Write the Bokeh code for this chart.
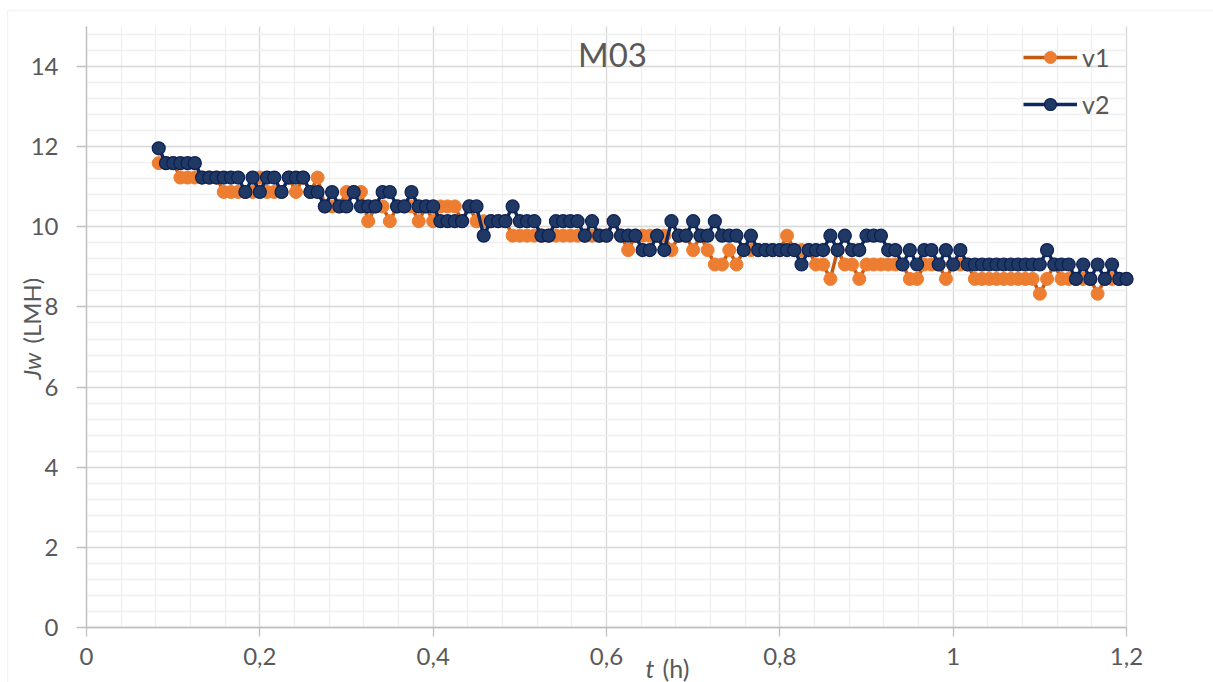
import math

from bokeh.embed import file_html
from bokeh.models import (ColumnDataSource, FixedTicker, Grid, Label, Legend,
                          LegendItem, PolyAnnotation, Range1d)
from bokeh.plotting import figure
from bokeh.resources import INLINE

# ---- data -------------------------------------------------------------
# permeate flux Jw (LMH), logged every 30 s from t = 5 min
SAMPLE_START_H = 5 / 60
SAMPLE_STEP_H = 0.5 / 60

jw_v1 = [
    11.59, 11.59, 11.59, 11.23, 11.23, 11.23, 11.23, 11.23, 11.23, 10.87,
    10.87, 10.87, 10.87, 10.87, 11.23, 10.87, 10.87, 10.87, 11.23, 10.87,
    11.23, 10.87, 11.23, 10.51, 10.51, 10.51, 10.87, 10.87, 10.87, 10.14,
    10.51, 10.51, 10.14, 10.51, 10.51, 10.51, 10.14, 10.51, 10.14, 10.51,
    10.51, 10.51, 10.14, 10.51, 10.14, 10.14, 10.14, 10.14, 10.14, 9.78,
    9.78, 9.78, 9.78, 9.78, 9.78, 9.78, 9.78, 9.78, 9.78, 9.78,
    9.78, 9.78, 9.78, 10.14, 9.78, 9.42, 9.78, 9.78, 9.78, 9.78,
    9.78, 9.42, 9.78, 9.78, 9.42, 9.78, 9.42, 9.06, 9.06, 9.42,
    9.06, 9.42, 9.42, 9.42, 9.42, 9.42, 9.42, 9.78, 9.42, 9.42,
    9.42, 9.06, 9.06, 8.70, 9.42, 9.06, 9.06, 8.70, 9.06, 9.06,
    9.06, 9.06, 9.06, 9.06, 8.70, 8.70, 9.06, 9.06, 9.06, 8.70,
    9.06, 9.06, 9.06, 8.70, 8.70, 8.70, 8.70, 8.70, 8.70, 8.70,
    8.70, 8.70, 8.33, 8.70, 9.06, 8.70, 8.70, 8.70, 8.70, 8.70,
    8.33, 8.70, 8.70, 8.70, 8.70,
]

jw_v2 = [
    11.96, 11.59, 11.59, 11.59, 11.59, 11.59, 11.23, 11.23, 11.23, 11.23,
    11.23, 11.23, 10.87, 11.23, 10.87, 11.23, 11.23, 10.87, 11.23, 11.23,
    11.23, 10.87, 10.87, 10.51, 10.87, 10.51, 10.51, 10.87, 10.51, 10.51,
    10.51, 10.87, 10.87, 10.51, 10.51, 10.87, 10.51, 10.51, 10.51, 10.14,
    10.14, 10.14, 10.14, 10.51, 10.51, 9.78, 10.14, 10.14, 10.14, 10.51,
    10.14, 10.14, 10.14, 9.78, 9.78, 10.14, 10.14, 10.14, 10.14, 9.78,
    10.14, 9.78, 9.78, 10.14, 9.78, 9.78, 9.78, 9.42, 9.42, 9.78,
    9.42, 10.14, 9.78, 9.78, 10.14, 9.78, 9.78, 10.14, 9.78, 9.78,
    9.78, 9.42, 9.78, 9.42, 9.42, 9.42, 9.42, 9.42, 9.42, 9.06,
    9.42, 9.42, 9.42, 9.78, 9.42, 9.78, 9.42, 9.42, 9.78, 9.78,
    9.78, 9.42, 9.42, 9.06, 9.42, 9.06, 9.42, 9.42, 9.06, 9.42,
    9.06, 9.42, 9.06, 9.06, 9.06, 9.06, 9.06, 9.06, 9.06, 9.06,
    9.06, 9.06, 9.06, 9.42, 9.06, 9.06, 9.06, 8.70, 9.06, 8.70,
    9.06, 8.70, 9.06, 8.70, 8.70,
]

t_h = [round(SAMPLE_START_H + i * SAMPLE_STEP_H, 5) for i in range(len(jw_v1))]

x_ticks = [0, 0.2, 0.4, 0.6, 0.8, 1, 1.2]
x_tick_labels = ["0", "0,2", "0,4", "0,6", "0,8", "1", "1,2"]
x_minor = [round(i * 0.04, 2) for i in range(31)]
y_ticks = [0, 2, 4, 6, 8, 10, 12, 14]
y_minor = [round(i * 0.4, 1) for i in range(38)]

X_MAX = 1.2
Y_MAX = 15

# ---- canvas geometry --------------------------------------------------
W, H = 1213, 682
PLOT_LEFT, PLOT_RIGHT, PLOT_TOP, PLOT_BOTTOM = 86, 1126, 26, 627
px_per_x = (PLOT_RIGHT - PLOT_LEFT) / X_MAX
px_per_y = (PLOT_BOTTOM - PLOT_TOP) / Y_MAX

# the frame spans the whole canvas so that the axis titles and the chart
# border can sit beside the plotting area
x_range = Range1d(-PLOT_LEFT / px_per_x, (W - PLOT_LEFT) / px_per_x)
y_range = Range1d(-(H - PLOT_BOTTOM) / px_per_y, PLOT_BOTTOM / px_per_y)

# ---- styling ----------------------------------------------------------
FONT = "Lato"
TEXT = "#595959"
AXIS = "#bfbfbf"
GRID = "#d9d9d9"
MINOR_GRID = "#efefef"

p = figure(
    width=W, height=H,
    output_backend="svg", toolbar_location=None,
    x_range=x_range, y_range=y_range,
    min_border=0,
)
p.outline_line_color = None
p.background_fill_color = "white"
p.border_fill_color = "white"

x_ticker = FixedTicker(ticks=x_ticks, minor_ticks=x_minor)
y_ticker = FixedTicker(ticks=y_ticks, minor_ticks=y_minor)
p.xaxis.ticker = x_ticker
p.yaxis.ticker = y_ticker
p.xaxis.fixed_location = 0
p.yaxis.fixed_location = 0
p.xaxis.bounds = (0, X_MAX)
p.yaxis.bounds = (0, Y_MAX)

grid_style = dict(grid_line_color=GRID, grid_line_width=1.3,
                  minor_grid_line_color=MINOR_GRID, minor_grid_line_width=1.3)
if "cross_bounds" in Grid.properties():
    p.xgrid.ticker = x_ticker
    p.ygrid.ticker = y_ticker
    p.xgrid.bounds = (-0.0001, X_MAX + 0.0001)
    p.xgrid.cross_bounds = (0, Y_MAX)
    p.ygrid.bounds = (-0.0001, Y_MAX)
    p.ygrid.cross_bounds = (0, X_MAX)
    for g in (p.xgrid, p.ygrid):
        for k, v in grid_style.items():
            setattr(g, k, v)
else:
    p.xgrid.visible = False
    p.ygrid.visible = False
    for ticks, color in ((x_minor, MINOR_GRID), (x_ticks, GRID)):
        p.multi_line([[t, t] for t in ticks], [[0, Y_MAX]] * len(ticks),
                     line_color=color, line_width=1.3, level="underlay")
    for ticks, color in ((y_minor, MINOR_GRID), (y_ticks, GRID)):
        p.multi_line([[0, X_MAX]] * len(ticks), [[t, t] for t in ticks],
                     line_color=color, line_width=1.3, level="underlay")

for ax in (p.xaxis, p.yaxis):
    ax.axis_line_color = AXIS
    ax.axis_line_width = 1.3
    ax.major_tick_line_color = AXIS
    ax.major_tick_line_width = 1.3
    ax.major_tick_in = 0
    ax.minor_tick_in = 0
    ax.minor_tick_out = 0
    ax.major_label_text_font = FONT
    ax.major_label_text_font_size = "24px"
    ax.major_label_text_color = TEXT

p.xaxis.major_tick_out = 9
p.yaxis.major_tick_out = 10
p.xaxis.major_label_standoff = 11
p.yaxis.major_label_standoff = 18
p.xaxis.major_label_overrides = dict(zip(x_ticks, x_tick_labels))

# ---- series -----------------------------------------------------------
src1 = ColumnDataSource(dict(t=t_h, jw=jw_v1))
src2 = ColumnDataSource(dict(t=t_h, jw=jw_v2))

l1 = p.line("t", "jw", source=src1, line_color="#C55A11", line_width=3.5)
m1 = p.scatter("t", "jw", source=src1, size=13,
               fill_color="#ED7D31", line_color="#ED7D31", line_width=1)
l2 = p.line("t", "jw", source=src2, line_color="#0E2A5E", line_width=3.5)
m2 = p.scatter("t", "jw", source=src2, size=13,
               fill_color="#203864", line_color="#0B2154", line_width=1.2)

legend = Legend(
    items=[LegendItem(label="v1", renderers=[l1, m1]),
           LegendItem(label="v2", renderers=[l2, m2])],
    location=(1023, 563),
    glyph_width=54, glyph_height=30, spacing=17,
    label_standoff=5, padding=0, margin=0,
    label_text_font=FONT, label_text_font_size="25px",
    label_text_color=TEXT,
    background_fill_alpha=0, border_line_color=None,
)
p.add_layout(legend)

# ---- texts ------------------------------------------------------------
def sx(px):
    return (px - PLOT_LEFT) / px_per_x


def sy(py):
    return (PLOT_BOTTOM - py) / px_per_y


p.add_layout(Label(x=sx(612), y=sy(53), text="M03", text_align="center",
                   text_baseline="middle", text_font=FONT,
                   text_font_size="33px", text_color=TEXT))

p.add_layout(Label(x=sx(645), y=sy(667), text="t", text_align="left",
                   text_baseline="middle", text_font=FONT,
                   text_font_style="italic", text_font_size="25px",
                   text_color=TEXT))
p.add_layout(Label(x=sx(662), y=sy(667), text="(h)", text_align="left",
                   text_baseline="middle", text_font=FONT,
                   text_font_size="25px", text_color=TEXT))

p.add_layout(Label(x=sx(31), y=sy(379), text="Jw", angle=math.pi / 2,
                   text_align="left", text_baseline="middle",
                   text_font=FONT, text_font_style="italic",
                   text_font_size="24px", text_color=TEXT))
p.add_layout(Label(x=sx(31), y=sy(343), text="(LMH)", angle=math.pi / 2,
                   text_align="left", text_baseline="middle",
                   text_font=FONT, text_font_size="24px",
                   text_color=TEXT))

# chart-area border; its right and bottom edges lie past the canvas
p.add_layout(PolyAnnotation(
    xs=[sx(7), sx(W + 20), sx(W + 20), sx(7)],
    ys=[sy(10), sy(10), sy(H + 20), sy(H + 20)],
    fill_alpha=0, line_color="#d9d9d9", line_width=1.3,
))

open("out.html", "w").write(file_html(p, INLINE))
